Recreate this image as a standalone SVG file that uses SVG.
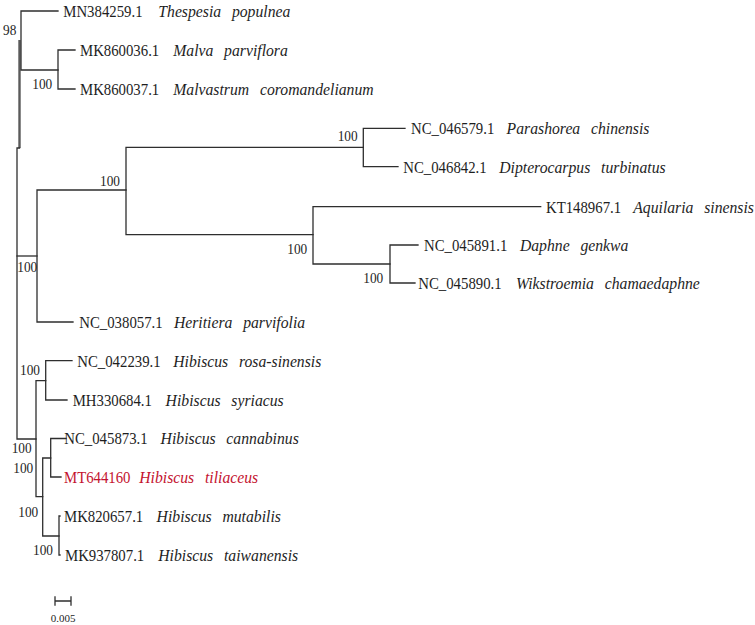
<svg xmlns="http://www.w3.org/2000/svg" width="755" height="625" viewBox="0 0 755 625">
<style>
.br{fill:none;stroke:#2e2e2e;stroke-width:1.3;stroke-linecap:square}
.thick{fill:none;stroke:#5a5a5a;stroke-width:2.4}
text{font-family:"Liberation Serif","Times New Roman",serif;fill:#1e1e1e;transform:scaleX(.87);transform-box:fill-box;transform-origin:0 0}
.acc{font-size:17px}
.sp{font-size:17px;font-style:italic;word-spacing:7.4px;transform:scaleX(.925)}
.bs{font-size:15.3px}
.red{fill:#c4122f}
.scl{font-size:11px;transform:none}
</style>
<rect width="755" height="625" fill="#fff"/>
<g id="connectors">
<path class="thick" d="M19.5 40 V148"/>
<path class="br" d="M58 11 H21 V70 H58"/>
<path class="br" d="M75 50 H58 V89 H75"/>
<path class="br" d="M19.5 148 H17 V439 H36"/>
<path class="br" d="M17 256 H37"/>
<path class="br" d="M126 190 H37 V322 H73"/>
<path class="br" d="M363.3 147.3 H126 V234.7 H313"/>
<path class="br" d="M405 128.3 H363.3 V166.7 H398"/>
<path class="br" d="M540.7 206.7 H313 V264 H390"/>
<path class="br" d="M418 245 H390 V283 H415"/>
<path class="br" d="M45.7 380.7 H36 V496.7 H42.7"/>
<path class="br" d="M72 360.7 H45.7 V400 H67"/>
<path class="br" d="M50.7 458 H42.7 V536 H59"/>
<path class="br" d="M66 438.5 H50.7 V477 H61"/>
<path class="br" d="M60 516 H59 V555 H60"/>
</g>
<g id="tip-MN384259"><text class="acc" x="63.3" y="17">MN384259.1</text><text class="sp" x="158.3" y="17">Thespesia populnea</text></g>
<g id="tip-MK860036"><text class="acc" x="80" y="56">MK860036.1</text><text class="sp" x="173.3" y="56">Malva parviflora</text></g>
<g id="tip-MK860037"><text class="acc" x="80" y="95">MK860037.1</text><text class="sp" x="173.3" y="95">Malvastrum coromandelianum</text></g>
<g id="tip-NC046579"><text class="acc" x="411" y="134.3">NC_046579.1</text><text class="sp" x="506.7" y="134.3">Parashorea chinensis</text></g>
<g id="tip-NC046842"><text class="acc" x="403.3" y="172.7">NC_046842.1</text><text class="sp" x="499.3" y="172.7">Dipterocarpus turbinatus</text></g>
<g id="tip-KT148967"><text class="acc" x="546" y="212.7">KT148967.1</text><text class="sp" x="633.3" y="212.7">Aquilaria sinensis</text></g>
<g id="tip-NC045891"><text class="acc" x="424" y="251">NC_045891.1</text><text class="sp" x="520" y="251">Daphne genkwa</text></g>
<g id="tip-NC045890"><text class="acc" x="418.3" y="289">NC_045890.1</text><text class="sp" x="516" y="289">Wikstroemia chamaedaphne</text></g>
<g id="tip-NC038057"><text class="acc" x="79.3" y="327.7">NC_038057.1</text><text class="sp" x="174" y="327.7">Heritiera parvifolia</text></g>
<g id="tip-NC042239"><text class="acc" x="77.3" y="366.7">NC_042239.1</text><text class="sp" x="173.3" y="366.7">Hibiscus rosa-sinensis</text></g>
<g id="tip-MH330684"><text class="acc" x="72.7" y="406">MH330684.1</text><text class="sp" x="165.7" y="406">Hibiscus syriacus</text></g>
<g id="tip-NC045873"><text class="acc" x="64.3" y="444.5">NC_045873.1</text><text class="sp" x="160.7" y="444.5">Hibiscus cannabinus</text></g>
<g id="tip-MT644160"><text class="acc red" x="64" y="483">MT644160</text><text class="sp red" x="139.3" y="483">Hibiscus tiliaceus</text></g>
<g id="tip-MK820657"><text class="acc" x="64" y="522">MK820657.1</text><text class="sp" x="156.7" y="522">Hibiscus mutabilis</text></g>
<g id="tip-MK937807"><text class="acc" x="65" y="561">MK937807.1</text><text class="sp" x="158.3" y="561">Hibiscus taiwanensis</text></g>
<g id="node-98"><text class="bs" x="3" y="35">98</text></g>
<g id="node-malva"><text class="bs" x="32.3" y="89">100</text></g>
<g id="node-126"><text class="bs" x="100" y="186">100</text></g>
<g id="node-dipterocarp"><text class="bs" x="337.7" y="141.5">100</text></g>
<g id="node-thymel"><text class="bs" x="287.3" y="254">100</text></g>
<g id="node-daphne"><text class="bs" x="363.3" y="282.7">100</text></g>
<g id="node-heritiera"><text class="bs" x="17.3" y="272">100</text></g>
<g id="node-rosa"><text class="bs" x="20" y="375">100</text></g>
<g id="node-hibiscus"><text class="bs" x="11.7" y="452.7">100</text></g>
<g id="node-hib2"><text class="bs" x="13.3" y="473">100</text></g>
<g id="node-hib3"><text class="bs" x="18.3" y="516.7">100</text></g>
<g id="node-hib4"><text class="bs" x="33" y="555">100</text></g>
<g id="scale-bar">
<path class="br" d="M55 601 H71 M55 597 V605 M71 597 V605"/>
<text class="scl" x="63" y="621.5" text-anchor="middle">0.005</text>
</g>
</svg>
